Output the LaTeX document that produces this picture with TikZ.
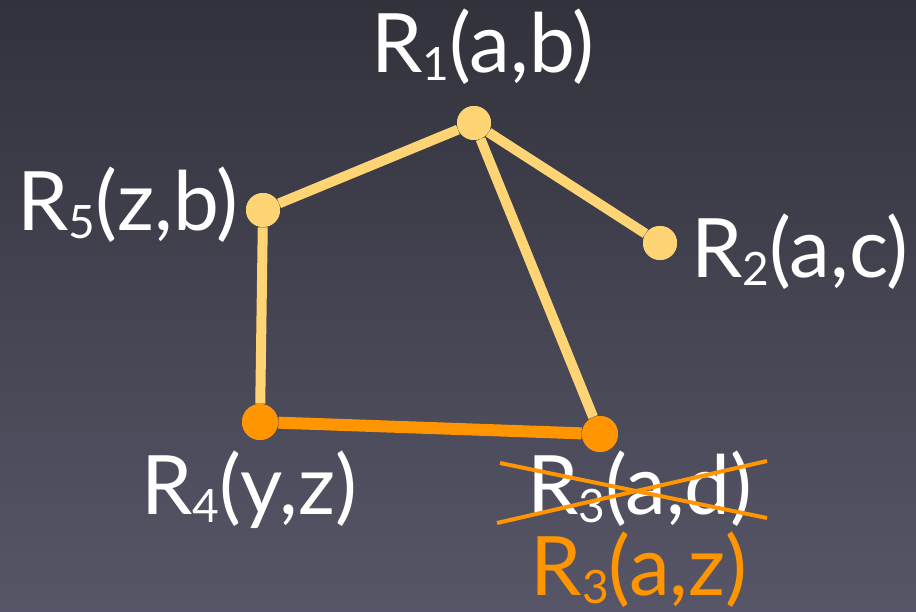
\documentclass[tikz,border=0pt]{standalone}
\usepackage{fontspec}
\setmainfont{Lato}
\usetikzlibrary{positioning}

\definecolor{slatetop}{RGB}{50,50,60}
\definecolor{slatebot}{RGB}{86,86,104}
\definecolor{pale}{RGB}{255,212,117}
\definecolor{hotorange}{RGB}{255,149,0}
\newcommand\subdig[1]{\raisebox{-0.1em}{\fontsize{23}{24}\selectfont #1}}

\begin{document}
\begin{tikzpicture}[x=0.5pt, y=-0.5pt,
    dot/.style={circle, fill=pale, inner sep=0pt, minimum size=17pt},
    hotdot/.style={dot, fill=hotorange, minimum size=18pt},
    link/.style={pale, line width=5pt},
    hotlink/.style={hotorange, line width=6pt},
    lbl/.style={text=white, font=\fontsize{41}{43}\selectfont, inner sep=0pt, anchor=base},
    strike/.style={hotorange, line width=2pt}]

    % Background
    \shade[top color=slatetop, bottom color=slatebot] (0,0) rectangle (916,611);
    \useasboundingbox (0,0) rectangle (916,611);

    % Relations
    \node[dot] (r1) at (474,123) {};
    \node[dot] (r5) at (263,210) {};
    \node[dot] (r2) at (660,243) {};
    \node[hotdot] (r4) at (260,422) {};
    \node[hotdot] (r3) at (600,434) {};

    % Joins
    \draw[link] (r1) -- (r5);
    \draw[link] (r1) -- (r2);
    \draw[link] (r1) -- (r3);
    \draw[link] (r5) -- (r4);
    \draw[hotlink] (r4) -- (r3);
    \foreach \n in {r1, r5, r2}
        \fill[pale] (\n) circle (8.5pt);
    \foreach \n in {r4, r3}
        \fill[hotorange] (\n) circle (9pt);

    % Labels
    \node[lbl] (l1) at (483,72) {R\subdig{1}(a,b)};
    \node[lbl] (l5) at (128,230) {R\subdig{5}(z,b)};
    \node[lbl] (l2) at (800,277) {R\subdig{2}(a,c)};
    \node[lbl] (l4) at (249,514) {R\subdig{4}(y,z)};
    \node[lbl] (old) at (640,514) {R\subdig{3}(a,d)};
    \node[lbl, text=hotorange] (new) at (639,595) {R\subdig{3}(a,z)};

    % Crossed out
    \coordinate (x1) at (500,463);
    \coordinate (x2) at (767,518);
    \coordinate (x3) at (497,523);
    \coordinate (x4) at (767,461);
    \draw[strike] (x1) -- (x2);
    \draw[strike] (x3) -- (x4);

\end{tikzpicture}
\end{document}
